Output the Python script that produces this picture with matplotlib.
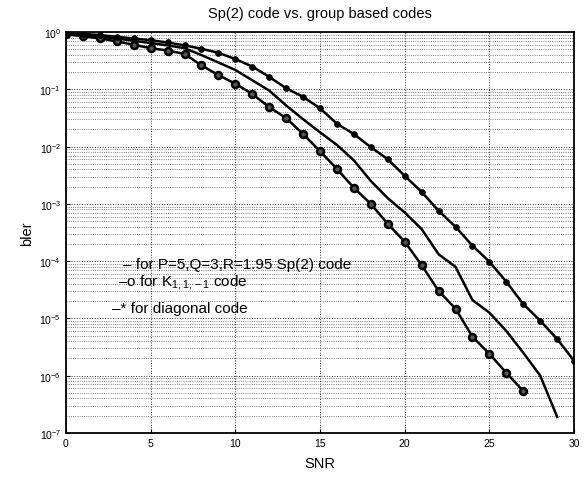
import numpy as np
import matplotlib
matplotlib.use('Agg')
import matplotlib.pyplot as plt

plt.rcParams['font.family'] = ['Liberation Sans', 'DejaVu Sans']
plt.rcParams['mathtext.fontset'] = 'custom'
plt.rcParams['mathtext.rm'] = 'Liberation Sans'
plt.rcParams['mathtext.it'] = 'Liberation Sans:italic'

# --------------------------
# data (log10 of bler)
# --------------------------
snr_diag = list(range(0, 31))
log_bler_diag = [-0.02, -0.03, -0.05, -0.08, -0.11, -0.14, -0.18, -0.23, -0.29, -0.36,
                 -0.47, -0.60, -0.78, -0.98, -1.13, -1.33, -1.60, -1.78, -2.01, -2.22,
                 -2.51, -2.79, -3.12, -3.40, -3.73, -4.01, -4.36, -4.75, -5.04, -5.36,
                 -5.74]

snr_sp2 = list(range(0, 30))
log_bler_sp2 = [-0.03, -0.05, -0.08, -0.11, -0.15, -0.19, -0.23, -0.28, -0.40, -0.53,
                -0.66, -0.84, -1.02, -1.28, -1.52, -1.75, -1.97, -2.24, -2.60, -2.90,
                -3.15, -3.44, -3.88, -4.10, -4.68, -4.90, -5.22, -5.60, -6.00, -6.72]

snr_k = list(range(0, 28))
log_bler_k = [-0.04, -0.07, -0.11, -0.16, -0.22, -0.28, -0.32, -0.38, -0.58, -0.75,
              -0.90, -1.08, -1.31, -1.50, -1.78, -2.08, -2.39, -2.72, -3.00, -3.35,
              -3.66, -4.07, -4.52, -4.83, -5.32, -5.62, -5.95, -6.27]

fig = plt.figure(figsize=(5.84, 4.81), dpi=100)
ax = fig.add_axes([0.113, 0.098, 0.870, 0.833])

ax.semilogy(snr_sp2, 10 ** np.array(log_bler_sp2), '-', color='black', lw=1.8)
ax.semilogy(snr_k, 10 ** np.array(log_bler_k), '-o', color='black', lw=1.8,
            ms=5, mfc='#555555', mew=1.8)
ax.semilogy(snr_diag, 10 ** np.array(log_bler_diag), '-o', color='black', lw=1.8,
            ms=3.8, mfc='black')

ax.set_xlim(0, 30)
ax.set_ylim(1e-7, 1)
ax.set_xticks([0, 5, 10, 15, 20, 25, 30])
ax.tick_params(axis='both', which='major', labelsize=7.5, direction='in', length=3)
ax.tick_params(axis='both', which='minor', direction='in', length=0)
ax.grid(True, which='major', linestyle=':', color='#333333', lw=0.7)
ax.grid(True, which='minor', axis='y', linestyle=':', color='#555555', lw=0.6)
for s in ax.spines.values():
    s.set_linewidth(1.3)

ax.set_xlabel('SNR', fontsize=10.5, labelpad=6)
ax.set_ylabel('bler', fontsize=10.5)
ax.set_title('Sp(2) code vs. group based codes', fontsize=10.5, pad=11)

ax.text(3.35, 10 ** -4.05, '\u2013 for P=5,Q=3,R=1.95 Sp(2) code', fontsize=11,
        va='center', ha='left')
ax.text(3.1, 10 ** -4.36, '\u2013o for K$_{1,1,-1}$ code', fontsize=11,
        va='center', ha='left')
ax.text(2.7, 10 ** -4.82, '\u2013* for diagonal code', fontsize=11,
        va='center', ha='left')

plt.savefig('out.png', dpi=100)
